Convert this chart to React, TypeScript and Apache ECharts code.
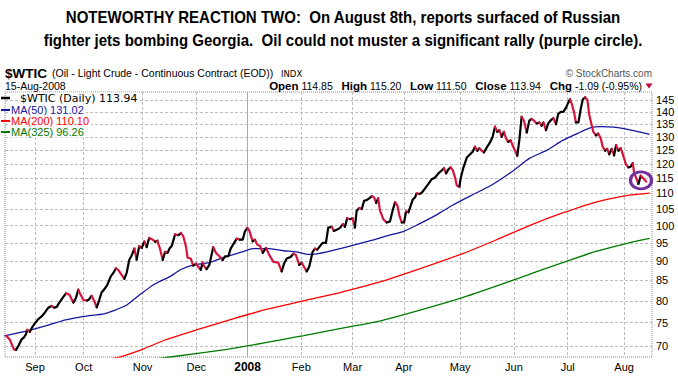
import React, { useEffect, useRef } from "react";
import * as echarts from "echarts";

// Trading-day index 0 = 16-Aug-2007, 252 = 15-Aug-2008
const monthLabels = ["Sep", "Oct", "Nov", "Dec", "2008", "Feb", "Mar", "Apr", "May", "Jun", "Jul", "Aug"];
const monthStartDay = [12, 31, 54, 75, 95, 116, 136, 156, 178, 199, 220, 242];
const priceTicks = [70, 75, 80, 85, 90, 95, 100, 105, 110, 115, 120, 125, 130, 135, 140, 145];

// $WTIC daily close: [trading day, price]
const wtic: [number, number][] = [
  [0.9, 72.1], [2.2, 71.3], [3.8, 69.3], [4.6, 69.2], [5.5, 70.0], [6.8, 71.4], [7.7, 71.8], [8.5, 72.5],
  [9.0, 73.4], [10.0, 73.0], [10.7, 73.8], [12.0, 74.9], [13.3, 75.8], [14.6, 76.4], [15.9, 77.3], [17.2, 78.4],
  [18.5, 78.8], [19.5, 78.4], [20.5, 78.6], [21.5, 79.6], [23.0, 80.9], [24.1, 81.8], [25.4, 81.5], [27.0, 79.6],
  [28.0, 80.7], [28.9, 82.7], [29.8, 81.5], [30.9, 80.2], [32.4, 80.1], [33.2, 80.4], [34.1, 81.2], [35.2, 79.9],
  [36.1, 78.5], [37.1, 80.2], [38.0, 82.0], [39.3, 83.0], [40.2, 83.8], [41.6, 86.0], [42.6, 86.9], [43.6, 88.1],
  [44.5, 87.7], [45.5, 86.7], [46.9, 85.4], [47.8, 86.9], [48.8, 90.3], [49.8, 91.6], [50.8, 93.4], [51.7, 90.4],
  [52.7, 94.1], [53.7, 93.6], [54.7, 95.4], [55.6, 93.8], [56.6, 96.4], [58.0, 95.9], [58.9, 95.3], [59.8, 95.6],
  [60.8, 93.4], [61.9, 90.3], [62.8, 92.5], [63.7, 92.2], [64.7, 93.6], [65.4, 94.1], [66.7, 97.4], [68.0, 97.2],
  [69.0, 97.8], [69.9, 96.9], [70.9, 94.1], [71.6, 90.9], [72.8, 90.7], [73.8, 88.8], [74.9, 89.3], [75.8, 88.5],
  [76.7, 87.7], [77.5, 89.6], [78.1, 88.6], [79.0, 87.9], [80.1, 89.0], [81.6, 93.8], [82.7, 92.2], [84.0, 91.3],
  [85.3, 90.3], [86.2, 91.3], [87.5, 91.3], [88.4, 93.4], [89.7, 94.9], [90.8, 96.2], [92.0, 95.9], [93.1, 95.9],
  [94.0, 98.3], [94.9, 99.3], [95.7, 98.5], [97.0, 95.4], [97.9, 95.9], [98.8, 94.5], [99.9, 94.1], [100.9, 92.2],
  [102.2, 93.6], [103.5, 91.6], [105.1, 89.8], [107.0, 89.6], [108.3, 87.3], [109.3, 89.4], [110.3, 90.7], [111.8, 91.1],
  [112.9, 92.0], [113.9, 91.6], [115.2, 89.0], [116.1, 89.6], [117.0, 88.5], [118.1, 87.3], [119.1, 88.6], [120.4, 92.5],
  [121.3, 93.4], [122.2, 93.1], [123.3, 94.1], [124.3, 95.0], [125.6, 95.0], [126.5, 99.4], [127.9, 99.6], [128.7, 98.4],
  [130.0, 98.8], [131.1, 99.3], [132.2, 100.4], [133.0, 99.6], [133.9, 102.2], [135.0, 101.9], [136.0, 102.2], [136.9, 99.4],
  [137.6, 104.5], [138.6, 105.3], [139.6, 105.0], [140.5, 107.6], [141.5, 107.8], [142.5, 108.4], [143.5, 109.1], [144.4, 108.7],
  [145.2, 106.9], [146.0, 108.4], [146.7, 104.5], [148.0, 101.9], [149.3, 100.9], [150.6, 101.2], [151.7, 104.7], [152.6, 107.2],
  [153.5, 106.1], [154.3, 103.0], [155.2, 100.9], [156.1, 100.9], [156.9, 104.3], [157.8, 104.0], [158.7, 106.1], [159.5, 108.0],
  [160.4, 108.7], [161.0, 110.0], [162.1, 109.8], [163.0, 110.2], [164.3, 111.6], [165.6, 113.1], [166.9, 114.7], [168.2, 115.3],
  [169.5, 116.7], [170.8, 117.7], [171.7, 118.5], [172.5, 116.7], [173.4, 118.1], [174.3, 118.8], [175.1, 117.8], [176.0, 115.3],
  [176.7, 112.6], [177.7, 112.2], [178.2, 115.0], [179.2, 118.5], [180.6, 122.3], [181.9, 123.5], [182.9, 124.4], [183.8, 126.3],
  [184.7, 124.8], [185.5, 125.7], [186.4, 124.8], [187.3, 124.2], [188.4, 126.0], [189.7, 128.0], [190.7, 130.1], [191.6, 134.0],
  [192.5, 132.0], [193.3, 132.6], [194.2, 130.1], [195.1, 132.0], [195.9, 129.4], [196.8, 128.1], [197.7, 128.7], [198.8, 126.1],
  [199.8, 124.2], [200.3, 122.9], [201.1, 128.7], [202.0, 138.0], [202.9, 136.4], [204.0, 131.7], [205.0, 136.4], [205.9, 137.1],
  [206.8, 136.4], [207.9, 135.3], [208.9, 135.7], [209.8, 134.4], [210.5, 135.7], [211.5, 132.6], [212.4, 135.3], [213.4, 136.6],
  [214.4, 137.4], [215.4, 135.0], [216.3, 139.2], [217.3, 140.0], [218.3, 140.0], [219.3, 141.7], [220.2, 143.9], [220.9, 145.4],
  [221.6, 143.3], [222.5, 139.7], [223.2, 135.7], [224.2, 135.7], [225.1, 141.4], [225.9, 145.3], [226.8, 146.2], [227.7, 145.0],
  [228.4, 138.8], [229.4, 134.4], [230.0, 132.0], [231.0, 130.6], [231.9, 131.3], [232.9, 129.4], [233.7, 126.1], [234.6, 124.8],
  [235.4, 125.5], [236.2, 123.5], [237.2, 125.5], [238.1, 123.1], [238.9, 126.9], [239.8, 124.8], [240.7, 125.7], [241.7, 122.9],
  [242.8, 119.7], [243.7, 118.8], [244.6, 119.0], [245.4, 120.3], [245.9, 117.0], [246.9, 114.7], [247.6, 113.1], [248.5, 115.9],
  [249.5, 115.0], [250.6, 113.9],
];

const ma50: [number, number][] = [
  [0, 72.1], [9, 73.2], [18, 74.6], [24, 75.6], [31, 76.4], [39, 77.0], [43, 77.8], [48, 79.1], [53, 81.5],
  [58, 83.8], [65, 86.1], [69, 87.8], [74, 89.0], [80, 89.6], [87, 91.3], [93, 92.5], [97, 93.4], [103, 93.4],
  [109, 92.8], [114, 92.5], [119, 91.8], [126, 92.5], [143, 95.6], [149, 96.9], [156, 98.3], [162, 100.5],
  [169, 103.3], [175, 106.2], [182, 109.2], [190, 112.6], [199, 117.8], [205, 122.0], [212, 125.0], [218, 128.7],
  [225, 131.9], [229, 133.6], [233, 134.0], [238, 133.8], [243, 133.0], [252, 131.0],
];
const ma200: [number, number][] = [
  [41, 67.3], [46, 67.9], [54, 69.3], [63, 71.3], [76, 73.6], [89, 75.8], [103, 78.1], [116, 79.9], [131, 82.0],
  [147, 84.7], [161, 87.7], [179, 92.0], [192, 95.8], [205, 100.0], [218, 103.8], [231, 107.2], [244, 109.4], [252, 110.1],
];
const ma325: [number, number][] = [
  [57, 67.2], [64, 67.7], [87, 69.3], [95, 70.0], [109, 71.4], [117, 72.2], [131, 73.7], [146, 75.3], [162, 77.8],
  [178, 80.6], [194, 84.0], [209, 87.5], [218, 89.6], [231, 92.6], [244, 95.0], [252, 96.26],
];
const circleAt: [number, number] = [248.6, 114.3];

const L = Math.log;
const toPt = (p: [number, number]) => [p[0], L(p[1])];

function directionalRuns(pts: [number, number][]) {
  const runs: any[] = [];
  let cur: number[][] | null = null;
  let curUp: boolean | null = null;
  for (let i = 1; i < pts.length; i++) {
    const up = pts[i][1] >= pts[i - 1][1];
    if (cur && up === curUp) {
      cur.push(toPt(pts[i]));
    } else {
      cur = [toPt(pts[i - 1]), toPt(pts[i])];
      curUp = up;
      runs.push({ coords: cur, lineStyle: { color: up ? "#000000" : "#d8143c" } });
    }
  }
  return runs;
}

const FONT = '"Liberation Sans", Arial, sans-serif';
const VERDANA = '"DejaVu Sans", Verdana, sans-serif';

export default function App() {
  const ref = useRef<HTMLDivElement>(null);
  useEffect(() => {
    if (!ref.current) return;
    const chart = echarts.init(ref.current, null, { renderer: "svg" });
    const maLine = (name: string, data: [number, number][], color: string, extra: any = {}) => ({
      type: "line",
      name,
      data: data.map(toPt),
      showSymbol: false,
      symbol: "none",
      smooth: 0.2,
      lineStyle: { color, width: 1.3 },
      silent: true,
      z: 3,
      ...extra,
    });
    const legendRow = (y: number, color: string, text: string, fontFamily: string, tx: number, dashH: number) => [
      { type: "rect", shape: { x: 1, y: y - dashH / 2, width: 9, height: dashH }, style: { fill: color }, z: 10 },
      {
        type: "text",
        x: tx,
        y,
        z: 10,
        style: {
          text,
          fill: color,
          fontSize: 11,
          fontFamily,
          verticalAlign: "middle",
          backgroundColor: "#ffffff",
          padding: [0, 2, 0, 1],
        },
      },
    ];
    const titleLine = (text: string, y: number) => ({
      type: "text",
      x: 343,
      y,
      scaleX: 0.94,
      style: {
        text,
        fontSize: 16,
        fontWeight: "bold",
        fontFamily: FONT,
        fill: "#000",
        align: "center",
        verticalAlign: "middle",
      },
    });
    chart.setOption({
      animation: false,
      backgroundColor: "#ffffff",
      grid: {
        left: 5,
        right: 26,
        top: 92,
        bottom: 20,
        show: true,
        borderColor: "#8c8c8c",
        borderWidth: 1,
        borderType: "dotted",
        outerBoundsMode: "none",
        containLabel: false,
      },
      xAxis: {
        type: "value",
        min: 0.3,
        max: 252.9,
        axisLine: { show: false },
        axisTick: { show: false, customValues: monthStartDay },
        axisLabel: {
          customValues: monthStartDay,
          margin: 4,
          fontSize: 11,
          fontFamily: FONT,
          color: "#000",
          formatter: (v: number) => {
            const i = monthStartDay.indexOf(Math.round(v));
            const lab = i >= 0 ? monthLabels[i] : "";
            return lab === "2008" ? "{b|2008}" : lab;
          },
          rich: { b: { fontWeight: "bold", fontSize: 12, fontFamily: FONT, color: "#000" } },
        },
        splitLine: { show: true, lineStyle: { color: "#bdbdbd", width: 1, type: [3, 2] } },
      },
      yAxis: {
        type: "value",
        position: "right",
        min: L(67.75),
        max: L(148.5),
        axisLine: { show: false },
        axisTick: { show: false, customValues: priceTicks.map(L) },
        axisLabel: {
          customValues: priceTicks.map(L),
          margin: 4,
          fontSize: 11,
          fontFamily: FONT,
          color: "#000",
          formatter: (v: number) => String(Math.round(Math.exp(v))),
        },
        splitLine: { show: true, lineStyle: { color: "#bdbdbd", width: 1, type: [3, 2] } },
      },
      series: [
        maLine("MA(325)", ma325, "#007a00", {
          markLine: {
            silent: true,
            symbol: ["none", "none"],
            label: { show: false },
            lineStyle: { color: "#a8a8a8", type: "solid", width: 1 },
            data: [{ xAxis: monthStartDay[4] }],
            z: 1,
          },
        }),
        maLine("MA(200)", ma200, "#ff0000"),
        maLine("MA(50)", ma50, "#1616a0"),
        {
          type: "lines",
          coordinateSystem: "cartesian2d",
          polyline: true,
          silent: true,
          data: directionalRuns(wtic),
          lineStyle: { width: 2.2, opacity: 1, cap: "round", join: "round" },
          z: 5,
        },
        {
          type: "scatter",
          silent: true,
          data: [toPt(circleAt)],
          symbol: "circle",
          symbolSize: [21, 17],
          itemStyle: { color: "rgba(0,0,0,0)", borderColor: "#7030a0", borderWidth: 3, opacity: 1 },
          z: 6,
          clip: false,
        },
      ],
      graphic: [
        titleLine("NOTEWORTHY REACTION TWO:  On August 8th, reports surfaced of Russian", 17),
        titleLine("fighter jets bombing Georgia.  Oil could not muster a significant rally (purple circle).", 40),
        {
          type: "text",
          x: 5,
          y: 73,
          style: { text: "$WTIC", fontSize: 13.5, fontWeight: "bold", fontFamily: FONT, fill: "#000", verticalAlign: "middle" },
        },
        {
          type: "text",
          x: 52,
          y: 73,
          style: {
            text: "(Oil - Light Crude - Continuous Contract (EOD))",
            fontSize: 10.5,
            fontFamily: FONT,
            fill: "#000",
            verticalAlign: "middle",
          },
        },
        {
          type: "text",
          x: 281,
          y: 73.5,
          style: { text: "INDX", fontSize: 8.5, fontFamily: VERDANA, fill: "#000", verticalAlign: "middle" },
        },
        {
          type: "text",
          x: 652,
          y: 73,
          style: { text: "© StockCharts.com", fontSize: 10, fontFamily: FONT, fill: "#555", align: "right", verticalAlign: "middle" },
        },
        {
          type: "text",
          x: 5,
          y: 86,
          style: { text: "15-Aug-2008", fontSize: 10.5, fontFamily: FONT, fill: "#000", verticalAlign: "middle" },
        },
        {
          type: "text",
          x: 642,
          y: 86,
          style: {
            text:
              "{b|Open}{v| 114.85   }{b|High}{v| 115.20   }{b|Low}{v| 111.50   }{b|Close}{v| 113.94   }{b|Chg}{v| -1.09 (-0.95%)}",
            align: "right",
            verticalAlign: "middle",
            fontSize: 10.5,
            fontFamily: FONT,
            fill: "#000",
            rich: {
              b: { fontSize: 11.5, fontWeight: "bold", fontFamily: FONT, fill: "#000" },
              v: { fontSize: 10.5, fontFamily: FONT, fill: "#000" },
            },
          },
        },
        {
          type: "polygon",
          shape: { points: [[645.5, 83.5], [652.5, 83.5], [649, 88.5]] },
          style: { fill: "#c4003a" },
        },
        ...legendRow(98, "#000000", "$WTIC (Daily) 113.94", VERDANA, 19, 2.5),
        ...legendRow(110, "#1616a0", "MA(50) 131.02", FONT, 10, 2),
        ...legendRow(121, "#ff0000", "MA(200) 110.10", FONT, 10, 2),
        ...legendRow(132, "#007a00", "MA(325) 96.26", FONT, 10, 2),
      ],
    });
    return () => chart.dispose();
  }, []);
  return (
    <div
      ref={ref}
      style={{ position: "absolute", left: 0, top: 0, width: 678, height: 377, background: "#fff" }}
    />
  );
}
